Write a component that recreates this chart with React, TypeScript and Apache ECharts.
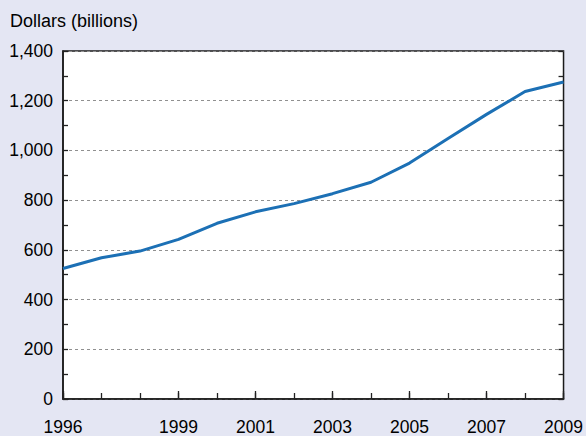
import React, { useEffect, useRef } from "react";
import * as echarts from "echarts";

const years = ["1996","1997","1998","1999","2000","2001","2002","2003","2004","2005","2006","2007","2008","2009"];
const labeledYears = ["1996","1999","2001","2003","2005","2007","2009"];
const spending = [525, 568, 595, 642, 707, 753, 786, 826, 872, 949, 1048, 1145, 1237, 1275];
const yUnitLabel = "Dollars (billions)";

const FONT = "'Liberation Sans', Arial, Helvetica, sans-serif";

export default function App() {
  const ref = useRef<HTMLDivElement>(null);
  useEffect(() => {
    if (!ref.current) return;
    const chart = echarts.init(ref.current, null, { renderer: "svg" });
    const fmt = (v: number) => v.toLocaleString("en-US");
    const yCommon = {
      type: "value",
      min: 0,
      max: 1400,
      interval: 200,
      axisLine: { show: false },
      axisTick: { show: true, inside: true, length: 5, lineStyle: { color: "#222", width: 1.3 } },
      minorTick: { show: true, splitNumber: 2, length: 5, lineStyle: { color: "#222", width: 1.3 } },
    };
    chart.setOption({
      animation: false,
      backgroundColor: "#e4e6f3",
      textStyle: { fontFamily: FONT },
      grid: {
        left: 63, right: 18, top: 51, bottom: 34,
        show: true, backgroundColor: "#ffffff", borderColor: "#1a1a1a", borderWidth: 1.5,
      },
      graphic: [
        {
          type: "text", left: 10, top: 12,
          style: { text: yUnitLabel, fontSize: 18, fontFamily: FONT, fill: "#000" },
        },
      ],
      xAxis: [
        {
          type: "category", data: years, boundaryGap: false,
          axisLine: { show: true, lineStyle: { color: "#1a1a1a", width: 1.5 } },
          axisTick: { show: true, inside: true, length: 6, interval: 0, lineStyle: { color: "#222", width: 1.3 } },
          axisLabel: {
            interval: 0, margin: 19, fontSize: 17.5, color: "#000", fontFamily: FONT,
            formatter: (v: string) => (labeledYears.includes(v) ? v : ""),
          },
          splitLine: { show: false },
        },
        {
          type: "category", data: years, boundaryGap: false, position: "bottom",
          axisLine: { show: false },
          axisTick: {
            show: true, inside: true, length: 8,
            interval: (i: number, v: string) => labeledYears.includes(v),
            lineStyle: { color: "#222", width: 1.3 },
          },
          axisLabel: { show: false },
          splitLine: { show: false },
        },
      ],
      yAxis: [
        {
          ...yCommon,
          position: "left",
          axisLine: { show: true, lineStyle: { color: "#1a1a1a", width: 1.5 } },
          axisLabel: { margin: 10, fontSize: 17.5, color: "#000", fontFamily: FONT, formatter: fmt },
          splitLine: { show: true, lineStyle: { color: "#909090", type: [3, 3], width: 1 } },
        },
        {
          ...yCommon,
          position: "right",
          axisLabel: { show: false },
          splitLine: { show: false },
        },
      ],
      series: [
        {
          type: "line",
          data: spending,
          xAxisIndex: 0,
          yAxisIndex: 0,
          symbol: "none",
          lineStyle: { color: "#1c70b5", width: 3 },
        },
      ],
    });
    return () => chart.dispose();
  }, []);
  return <div ref={ref} style={{ position: "absolute", left: 0, top: 0, width: 586, height: 436 }} />;
}
